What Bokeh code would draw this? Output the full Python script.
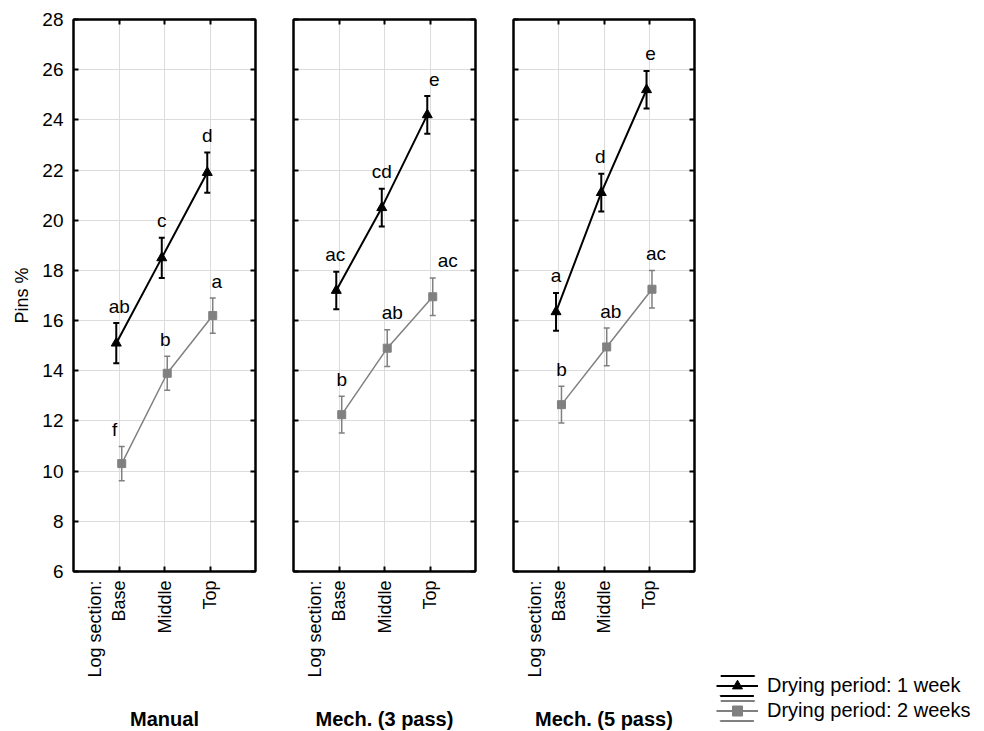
from math import pi

from bokeh.plotting import figure
from bokeh.models import (ColumnDataSource, Range1d, LinearAxis, FixedTicker,
                          SingleIntervalTicker, Whisker, TeeHead, Legend,
                          LegendItem, CustomJSTickFormatter)
from bokeh.layouts import row
from bokeh.embed import file_html
from bokeh.resources import INLINE
from bokeh.core.properties import value

# ---------------- data ----------------
CATEGORIES = ["Base", "Middle", "Top"]
CATEGORY_TITLE = "Log section:"
METHODS = ["Manual", "Mech. (3 pass)", "Mech. (5 pass)"]
SERIES_NAMES = ["Drying period: 1 week", "Drying period: 2 weeks"]
Y_LABEL = "Pins %"
Y_START, Y_END, Y_STEP = 6, 28, 2

# means and half-widths of the error bars, one row per method
WEEK1_MEAN = [[15.1, 18.5, 21.9], [17.2, 20.5, 24.2], [16.35, 21.1, 25.2]]
WEEK1_ERR = [[0.8, 0.8, 0.8], [0.75, 0.75, 0.75], [0.75, 0.75, 0.75]]
WEEK2_MEAN = [[10.3, 13.9, 16.2], [12.25, 14.9, 16.95], [12.65, 14.95, 17.25]]
WEEK2_ERR = [[0.68, 0.68, 0.7], [0.73, 0.73, 0.75], [0.73, 0.75, 0.75]]
WEEK1_LETTERS = [["ab", "c", "d"], ["ac", "cd", "e"], ["a", "d", "e"]]
WEEK2_LETTERS = [["f", "b", "a"], ["b", "ab", "ac"], ["b", "ab", "ac"]]

# ---------------- layout / style ----------------
FONT = "Liberation Sans"
FRAME_W = [182, 182, 181]
FRAME_H = 552
BORDER_L = [73, 19, 19]
BORDER_R = 19
BORDER_T = 19
BORDER_B = 158
LEGEND_W = 271
DODGE = 0.06
LABEL_DX_1 = [[3, 0, 0], [-1, 0, 7], [0, -1, 4]]      # pixel nudges of letters
LABEL_DX_2 = [[-7, -2, 4], [0, 5, 15], [0, 4, 4]]
BLACK = "#000000"
GRAY = "#808080"
GRID = "#dcdcdc"

XPOS = [i + 1 for i in range(len(CATEGORIES))]
TICK_LABELS = {x: c for x, c in zip(XPOS, CATEGORIES)}
# first category carries the "Log section:" heading as an extra line
TICK_LABELS[XPOS[0]] = CATEGORY_TITLE + "\n" + CATEGORIES[0] + "\n "

EMPTY_FMT = CustomJSTickFormatter(code="return ''")


def hidden_axis(axis):
    axis.formatter = EMPTY_FMT
    axis.major_label_standoff = 0


def style_axis(axis):
    axis.axis_line_color = BLACK
    axis.axis_line_width = 2
    axis.major_tick_in = 5
    axis.major_tick_out = 0
    axis.major_tick_line_color = BLACK
    axis.major_tick_line_width = 2
    axis.minor_tick_line_color = None
    axis.major_label_text_color = BLACK
    axis.major_label_text_font = FONT


SOURCES = []


def make_panel(k):
    p = figure(frame_width=FRAME_W[k], frame_height=FRAME_H,
               x_range=Range1d(0, len(CATEGORIES) + 1),
               y_range=Range1d(Y_START, Y_END),
               min_border_left=BORDER_L[k], min_border_right=BORDER_R,
               min_border_top=BORDER_T, min_border_bottom=BORDER_B,
               output_backend="svg", toolbar_location=None)
    p.outline_line_color = BLACK
    p.outline_line_width = 2
    p.background_fill_color = "white"
    p.border_fill_color = "white"

    xt = FixedTicker(ticks=XPOS)
    yt = SingleIntervalTicker(interval=Y_STEP, num_minor_ticks=0)

    # bottom axis: category names + method name
    xa = p.xaxis[0]
    xa.ticker = xt
    xa.major_label_overrides = TICK_LABELS
    style_axis(xa)
    xa.major_label_orientation = pi / 2
    xa.major_label_text_font_size = "18px"
    xa.major_label_standoff = 9
    xa.axis_label = METHODS[k]
    xa.axis_label_text_font = FONT
    xa.axis_label_text_font_size = "20px"
    xa.axis_label_text_font_style = "bold"
    xa.axis_label_text_color = BLACK
    xa.axis_label_standoff = 27

    # left axis
    ya = p.yaxis[0]
    ya.ticker = yt
    style_axis(ya)
    if k == 0:
        ya.major_label_text_font_size = "19px"
        ya.major_label_standoff = 10
        ya.axis_label = Y_LABEL
        ya.axis_label_text_font = FONT
        ya.axis_label_text_font_size = "18px"
        ya.axis_label_text_font_style = "normal"
        ya.axis_label_text_color = BLACK
        ya.axis_label_standoff = 7
    else:
        hidden_axis(ya)

    top = LinearAxis(ticker=FixedTicker(ticks=XPOS))
    style_axis(top)
    hidden_axis(top)
    p.add_layout(top, "above")
    right = LinearAxis(ticker=SingleIntervalTicker(interval=Y_STEP, num_minor_ticks=0))
    style_axis(right)
    hidden_axis(right)
    p.add_layout(right, "right")

    p.xgrid.ticker = xt
    p.ygrid.ticker = yt
    p.grid.grid_line_color = GRID
    p.grid.grid_line_width = 1

    series = [
        (WEEK1_MEAN[k], WEEK1_ERR[k], WEEK1_LETTERS[k], LABEL_DX_1[k], -DODGE,
         BLACK, "triangle", 10, 2),
        (WEEK2_MEAN[k], WEEK2_ERR[k], WEEK2_LETTERS[k], LABEL_DX_2[k], +DODGE,
         GRAY, "square", 8, 1.5),
    ]
    srcs = []
    for mean, err, letters, dxs, dodge, color, marker, size, lw in series[::-1]:
        src = ColumnDataSource(dict(
            x=[x + dodge for x in XPOS],
            mean=mean,
            upper=[m + e for m, e in zip(mean, err)],
            lower=[m - e for m, e in zip(mean, err)],
            letter=letters,
            dx=dxs,
        ))
        srcs.append(src)
        p.line("x", "mean", source=src, line_color=color, line_width=lw)
        p.add_layout(Whisker(source=src, base="x", upper="upper", lower="lower",
                             dimension="height", line_color=color, line_width=lw,
                             upper_head=TeeHead(size=6, line_color=color, line_width=lw),
                             lower_head=TeeHead(size=6, line_color=color, line_width=lw)))
        p.scatter("x", "mean", source=src, marker=marker, size=size,
                  fill_color=color, line_color=color)
        p.text("x", "upper", text="letter", source=src, x_offset="dx", y_offset=-17,
               text_align="center", text_baseline="alphabetic",
               text_font=value(FONT), text_font_size="19px", text_color=BLACK)
    SOURCES.append(srcs[::-1])
    return p


panels = [make_panel(k) for k in range(len(METHODS))]

# legend panel: proxies use the first panel's sources, drawn outside the view
pl = figure(frame_width=LEGEND_W, frame_height=FRAME_H,
            x_range=Range1d(-1, -0.5), y_range=Range1d(-1, -0.5),
            x_axis_type=None, y_axis_type=None,
            min_border_left=0, min_border_right=0,
            min_border_top=BORDER_T, min_border_bottom=BORDER_B,
            output_backend="svg", toolbar_location=None)
pl.outline_line_color = None
pl.grid.visible = False
items = []
for name, src, color, marker in [(SERIES_NAMES[0], SOURCES[0][0], BLACK, "triangle"),
                                 (SERIES_NAMES[1], SOURCES[0][1], GRAY, "square")]:
    r_cap = pl.rect("x", "mean", width=0.1, height=0.1, source=src, fill_alpha=0,
                    line_color=color, line_width=2, line_dash="34 20")
    r_line = pl.line("x", "mean", source=src, line_color=color, line_width=2)
    r_mark = pl.scatter("x", "mean", source=src, marker=marker, size=10,
                        fill_color=color, line_color=color)
    items.append(LegendItem(label=name, renderers=[r_cap, r_line, r_mark], index=0))
legend = Legend(items=items, location="top_left", padding=3, margin=0, spacing=0,
                glyph_width=42, glyph_height=25, label_height=25, label_standoff=9,
                label_text_font=FONT, label_text_font_size="20px",
                label_text_color=BLACK, border_line_alpha=0,
                background_fill_alpha=0,
                title=" ", title_text_font_size="10px", title_standoff=88)
pl.add_layout(legend, "below")

layout = row(*panels, pl)
open("out.html", "w").write(file_html(layout, INLINE))
